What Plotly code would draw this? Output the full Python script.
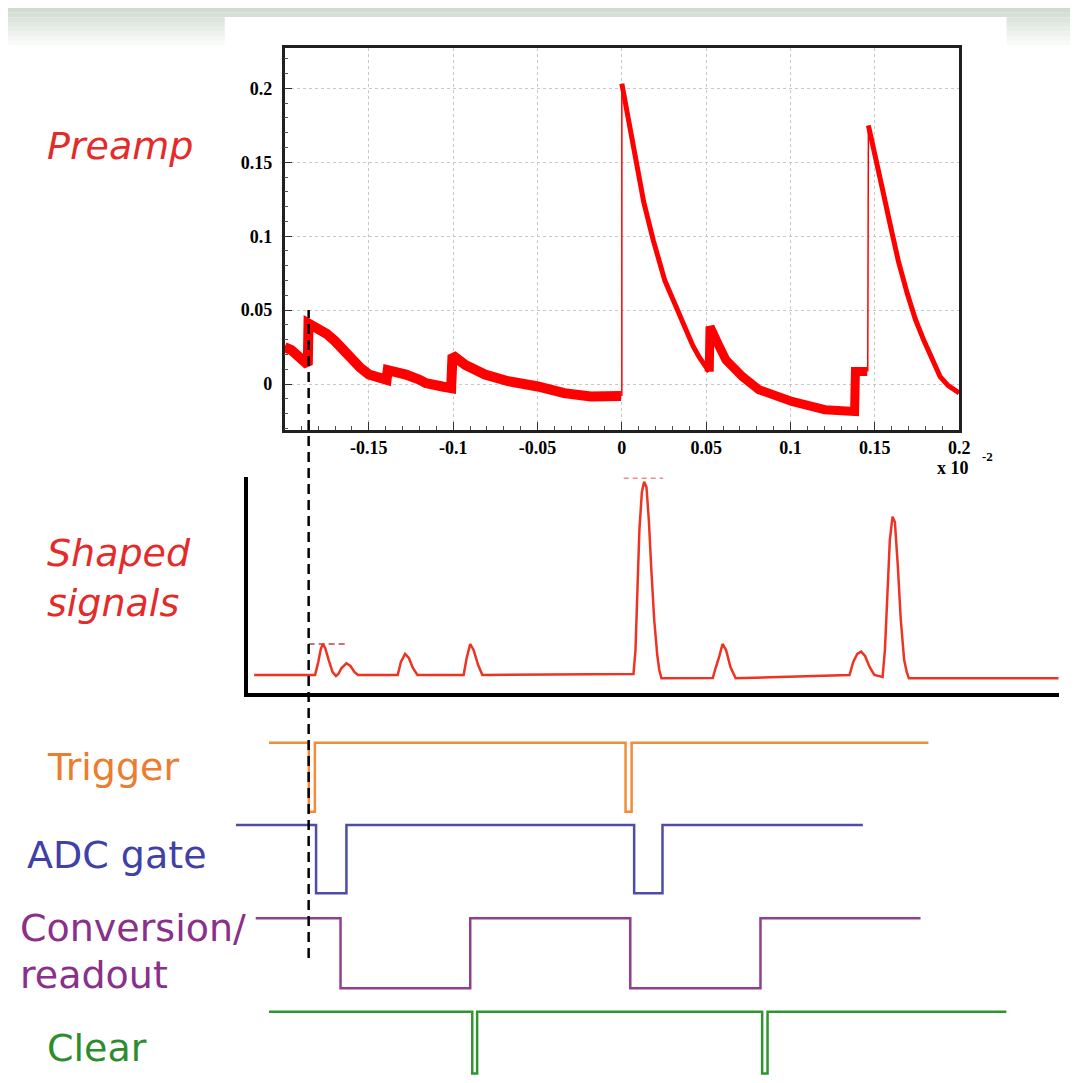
import plotly.graph_objects as go

W, H = 1089, 1083
OFF = 8                   # page body margin of the html page
X0, PPU = 628.2, 1704.0   # layout: pixel of t=0, pixels per time unit
FW, FH = W - 2 * OFF, H - 2 * OFF


def tx(p):
    return (p - X0) / PPU


def fx(p):
    return (p - OFF) / FW


def fy(p):
    return 1 - (p - OFF) / FH


# ---------------- data ----------------
# Preamp trace (x in units of 1e-2)
pre_left_t = [-0.2, -0.196, -0.192, -0.1885, -0.1862, -0.1858, -0.184, -0.18, -0.175, -0.17, -0.165,
              -0.16, -0.155, -0.15, -0.145, -0.1395, -0.1388, -0.135, -0.128, -0.12, -0.1163, -0.1065,
              -0.1012, -0.1004, -0.0928, -0.0811, -0.0674, -0.0498, -0.0342, -0.0185, -0.0005]
pre_left_v = [0.025, 0.023, 0.019, 0.016, 0.013, 0.041, 0.040, 0.037, 0.034, 0.029, 0.023,
              0.016, 0.011, 0.0065, 0.004, 0.003, 0.0095, 0.009, 0.0065, 0.003, 0.0007, -0.0016,
              -0.0027, 0.0195, 0.013, 0.0065, 0.002, -0.0016, -0.0061, -0.0083, -0.008]
pre_jump1_t = [0.0, 0.0]
pre_jump1_v = [-0.008, 0.203]
pre_decay1_t = [0.0, 0.002, 0.005, 0.0089, 0.013, 0.0187, 0.0225, 0.0255, 0.030, 0.0343, 0.038,
                0.0421, 0.046, 0.0499, 0.0518]
pre_decay1_v = [0.203, 0.190, 0.172, 0.147, 0.123, 0.097, 0.082, 0.070, 0.058, 0.046, 0.036,
                0.026, 0.018, 0.011, 0.0085]
pre_mid_t = [0.0518, 0.0523, 0.0578, 0.0617, 0.0715, 0.0813, 0.1008, 0.1204, 0.138, 0.1385, 0.1455]
pre_mid_v = [0.0085, 0.0389, 0.0254, 0.0164, 0.0051, -0.0038, -0.0117, -0.0173, -0.0185, 0.0085, 0.0085]
pre_jump2_t = [0.1458, 0.1462]
pre_jump2_v = [0.0085, 0.1748]
pre_decay2_t = [0.1462, 0.148, 0.1497, 0.1545, 0.1594, 0.164, 0.1692, 0.174, 0.1789, 0.184,
                0.1887, 0.1935, 0.1985, 0.2]
pre_decay2_v = [0.1748, 0.166, 0.158, 0.132, 0.1063, 0.083, 0.0614, 0.044, 0.0299, 0.016,
                0.0051, -0.001, -0.005, -0.006]

x_tick_vals = [-0.15, -0.1, -0.05, 0, 0.05, 0.1, 0.15, 0.2]
x_tick_text = ["-0.15", "-0.1", "-0.05", "0", "0.05", "0.1", "0.15", "0.2"]
y_tick_vals = [0, 0.05, 0.1, 0.15, 0.2]
y_tick_text = ["0", "0.05", "0.1", "0.15", "0.2"]

# Shaped signals (same time base, amplitude normalised)
shaped_t = [-0.2180, -0.1819, -0.1800, -0.1785, -0.1773, -0.1759, -0.1738, -0.1715, -0.1695,
            -0.1681, -0.1662, -0.1633, -0.1609, -0.1586, -0.1564,
            -0.1329, -0.1310, -0.1285, -0.1263, -0.1239, -0.1212,
            -0.0938, -0.0920, -0.0899, -0.0879, -0.0852, -0.0827,
            0.0069, 0.0081, 0.0093, 0.0104, 0.0119, 0.0132, 0.0146, 0.0160, 0.0175, 0.0192, 0.0210, 0.0222, 0.0235,
            0.0539, 0.0556, 0.0577, 0.0597, 0.0618, 0.0644, 0.0675,
            0.1350, 0.1372, 0.1396, 0.1419, 0.1442, 0.1469, 0.1497, 0.1519, 0.1546,
            0.1560, 0.1575, 0.1589, 0.1605, 0.1619, 0.1636, 0.1654, 0.1674, 0.1689, 0.1702,
            0.2589]
shaped_v = [0.0845, 0.0845, 0.1445, 0.2045, 0.2276, 0.2091, 0.1537, 0.0983, 0.0799,
            0.0891, 0.1168, 0.1385, 0.1260, 0.0983, 0.0845,
            0.0845, 0.1445, 0.1814, 0.1630, 0.1168, 0.0845,
            0.0845, 0.1630, 0.2276, 0.1999, 0.1307, 0.0845,
            0.0891, 0.1999, 0.4769, 0.7539, 0.9294, 0.9769, 0.9524, 0.8001, 0.5693, 0.3384, 0.1768, 0.1076, 0.0693,
            0.0706, 0.1168, 0.1676, 0.2276, 0.1999, 0.1214, 0.0693,
            0.0845, 0.1445, 0.1814, 0.1921, 0.1722, 0.1214, 0.0845, 0.0799, 0.0753,
            0.1999, 0.4769, 0.7078, 0.8153, 0.7909, 0.5923, 0.3384, 0.1537, 0.0983, 0.0693,
            0.0693]
mark1_t = [-0.1857, -0.1623]
mark1_v = [0.2276, 0.2276]
mark2_t = [0.0011, 0.0245]
mark2_v = [0.9926, 0.9926]

# Logic signals: transition times and levels (1 = high, 0 = low)
trigger_t = [-0.2092, -0.1856, -0.1820, 0.0022, 0.0058, 0.1818]
trigger_l = [1, 0, 1, 0, 1, 1]
adc_t = [-0.2288, -0.1813, -0.1633, 0.0073, 0.0241, 0.1429]
adc_l = [1, 0, 1, 0, 1, 1]
conv_t = [-0.2171, -0.1668, -0.0899, 0.0050, 0.0822, 0.1771]
conv_l = [1, 0, 1, 0, 1, 1]
clear_t = [-0.2092, -0.0887, -0.0858, 0.0832, 0.0864, 0.2280]
clear_l = [1, 0, 1, 0, 1, 1]

trigger_time = -0.1857

# ---------------- figure ----------------
RED = "#ff0000"
fig = go.Figure()


def pre(t, v, w):
    fig.add_trace(go.Scatter(x=t, y=v, mode="lines", xaxis="x", yaxis="y",
                             line=dict(color=RED, width=w), hoverinfo="skip"))


pre(pre_left_t, pre_left_v, 10)
pre(pre_jump1_t, pre_jump1_v, 1.5)
pre(pre_decay1_t, pre_decay1_v, 5)
pre(pre_mid_t, pre_mid_v, 9)
pre(pre_jump2_t, pre_jump2_v, 1.5)
pre(pre_decay2_t, pre_decay2_v, 5)

fig.add_trace(go.Scatter(x=shaped_t, y=shaped_v, mode="lines", xaxis="x3", yaxis="y2",
                         line=dict(color="#ee3322", width=2.5)))
fig.add_trace(go.Scatter(x=mark1_t, y=mark1_v, mode="lines", xaxis="x3", yaxis="y2",
                         line=dict(color="#c04040", width=1.5, dash="6px,4px")))
fig.add_trace(go.Scatter(x=mark2_t, y=mark2_v, mode="lines", xaxis="x3", yaxis="y2",
                         line=dict(color="#ec8c8c", width=1.5, dash="5px,4px")))

signals = [
    (trigger_t, trigger_l, "#ef8d3a", "y3"),
    (adc_t, adc_l, "#4d4da8", "y4"),
    (conv_t, conv_l, "#933d93", "y5"),
    (clear_t, clear_l, "#2f962f", "y6"),
]
for t, l, c, ya in signals:
    fig.add_trace(go.Scatter(x=t, y=l, mode="lines", xaxis="x2", yaxis=ya,
                             line=dict(color=c, width=2.5, shape="hv")))

# ---------------- layout ----------------
axfont = dict(family="Liberation Serif", size=18, color="black", weight="bold")
common_pre = dict(showgrid=True, gridcolor="#c8c8c8", griddash="dot", gridwidth=1,
                  showline=True, mirror=True, linecolor="#202020", linewidth=2.5,
                  ticks="inside", ticklen=8, tickcolor="#303030", tickfont=axfont,
                  zeroline=False, fixedrange=True,
                  minor=dict(ticks="inside", ticklen=4, tickcolor="#505050", dtick=0.01, showgrid=False))

BOTTOM = OFF + FH
RIGHT = OFF + FW


def tdom(p_hi, p_lo, pad=10):
    top = max(OFF, p_hi - pad)
    bot = min(BOTTOM, p_lo + pad)
    span = p_lo - p_hi
    return dict(domain=[fy(bot), fy(top)], range=[-(bot - p_lo) / span, 1 + (p_hi - top) / span],
                visible=False, anchor="x2", fixedrange=True)


rows = {"yaxis3": (742.7, 811.7), "yaxis4": (825.0, 893.3),
        "yaxis5": (918.3, 988.3), "yaxis6": (1011.7, 1073.5)}

layout = dict(
    width=FW, height=FH, margin=dict(l=0, r=0, t=0, b=0),
    paper_bgcolor="white", plot_bgcolor="rgba(0,0,0,0)", showlegend=False,
    xaxis=dict(domain=[fx(X0 - 0.2 * PPU), fx(X0 + 0.2 * PPU)], range=[-0.2, 0.2], anchor="y",
               tickvals=x_tick_vals, ticktext=x_tick_text, **common_pre),
    yaxis=dict(domain=[fy(430), fy(48.3)], range=[-0.031, 0.227], anchor="x",
               tickvals=y_tick_vals, ticktext=y_tick_text, ticklabelstandoff=6, **common_pre),
    xaxis2=dict(domain=[0, 1], range=[tx(OFF), tx(RIGHT)], visible=False, anchor="y3",
                fixedrange=True),
    xaxis3=dict(domain=[fx(250), fx(1070)], range=[tx(250), tx(1070)], anchor="y2",
                showline=True, linecolor="black", linewidth=4, showticklabels=False,
                ticks="", showgrid=False, zeroline=False, fixedrange=True),
    yaxis2=dict(domain=[fy(693.3), fy(476.7)], range=[0, 1], anchor="x3",
                showline=True, linecolor="black", linewidth=3.5, showticklabels=False,
                ticks="", showgrid=False, zeroline=False, fixedrange=True),
)
for k, (hi, lo) in rows.items():
    layout[k] = tdom(hi, lo)

# decorative top band (slide background gradient)
shapes = []
n = 9
y_start, y_end = float(OFF), 50.0
c0 = (210, 219, 210)
for i in range(n):
    ya = y_start + (y_end - y_start) * i / n
    yb = y_start + (y_end - y_start) * (i + 1) / n
    f = i / (n - 1)
    col = "rgb(%d,%d,%d)" % tuple(int(c + (255 - c) * f) for c in c0)
    if yb <= 17:
        spans = [(OFF, RIGHT)]
    else:
        spans = [(OFF, 227), (1017, RIGHT)]
        if ya < 17:
            shapes.append(dict(type="rect", xref="paper", yref="paper", x0=0, x1=1,
                               y0=fy(17), y1=fy(ya), fillcolor=col, line_width=0, layer="below"))
            ya = 17
    for xa, xb in spans:
        shapes.append(dict(type="rect", xref="paper", yref="paper", x0=fx(xa), x1=fx(xb),
                           y0=fy(yb), y1=fy(ya), fillcolor=col, line_width=0, layer="below"))

# dashed time marker through all panels
shapes.append(dict(type="line", xref="x2", yref="paper", x0=trigger_time, x1=trigger_time,
                   y0=fy(958), y1=fy(310), line=dict(color="black", width=2.5, dash="10px,6px"),
                   layer="above"))
layout["shapes"] = shapes

lab = "DejaVu Sans"
labels = [
    ("Preamp", 45, 146, "#e52a2a", "italic"),
    ("Shaped", 45, 553, "#e52a2a", "italic"),
    ("signals", 45, 603, "#e52a2a", "italic"),
    ("Trigger", 45, 767, "#ec7c30", "normal"),
    ("ADC gate", 25, 855, "#4040a8", "normal"),
    ("Conversion/", 18, 928, "#8a2f8a", "normal"),
    ("readout", 18, 975, "#8a2f8a", "normal"),
    ("Clear", 45, 1048, "#2d8c2d", "normal"),
]
ann = []
for text, x, y, col, st in labels:
    ann.append(dict(text=text, x=fx(x), y=fy(y), xref="paper", yref="paper", xanchor="left",
                    yanchor="middle", showarrow=False,
                    font=dict(family=lab, size=38, color=col, style=st)))
ann.append(dict(text="x 10", x=fx(963), y=fy(468), xref="paper", yref="paper", showarrow=False,
                xanchor="center", yanchor="middle",
                font=dict(family="Liberation Serif", size=18, color="black", weight="bold")))
ann.append(dict(text="-2", x=fx(998), y=fy(456), xref="paper", yref="paper", showarrow=False,
                xanchor="center", yanchor="middle",
                font=dict(family="Liberation Serif", size=13, color="black", weight="bold")))
layout["annotations"] = ann

fig.update_layout(**layout)
fig.write_html("out.html")
